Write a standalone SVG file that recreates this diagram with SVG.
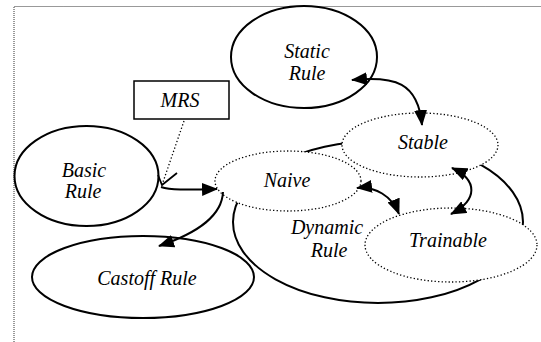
<svg xmlns="http://www.w3.org/2000/svg" width="541" height="342" viewBox="0 0 541 342">
<style>
.solid{fill:none;stroke:#000;stroke-width:2}
.dot{fill:#fff;stroke:#000;stroke-width:1.3;stroke-dasharray:1.3 2.2}
.lbl{font-family:'Liberation Serif','Times New Roman',serif;font-style:italic;font-size:20px;fill:#000;text-anchor:middle}
.arr{fill:none;stroke:#000;stroke-width:2}
</style>
<defs>
<marker id="ah" viewBox="0 0 16 13" refX="15" refY="6.5" markerWidth="16" markerHeight="13" markerUnits="userSpaceOnUse" orient="auto-start-reverse">
<path d="M0,0 L16,6.5 L0,13 z" fill="#000"/>
</marker>
</defs>
<path d="M14,342 V6.5 H541" fill="none" stroke="#333" stroke-width="1" stroke-dasharray="1 1"/>
<g id="dynamic"><ellipse class="solid" cx="378" cy="222" rx="145" ry="81"/><text class="lbl" x="327" y="234">Dynamic</text><text class="lbl" x="329" y="257">Rule</text></g>
<g id="static"><ellipse class="solid" cx="304" cy="57" rx="73" ry="51"/><text class="lbl" x="307" y="58">Static</text><text class="lbl" x="307" y="80">Rule</text></g>
<g id="basic"><ellipse class="solid" cx="86.5" cy="176" rx="72" ry="50"/><text class="lbl" x="84" y="177">Basic</text><text class="lbl" x="83" y="198">Rule</text></g>
<g id="castoff"><ellipse class="solid" cx="143" cy="277" rx="111" ry="41"/><text class="lbl" x="147" y="285">Castoff Rule</text></g>
<g id="mrs"><rect x="134" y="81" width="95" height="38" fill="#fff" stroke="#000" stroke-width="1.5"/><text class="lbl" x="180" y="107">MRS</text></g>
<g id="naive"><ellipse class="dot" cx="288" cy="181" rx="73" ry="30"/><text class="lbl" x="287" y="187">Naive</text></g>
<g id="stable"><ellipse class="dot" cx="420" cy="145" rx="78" ry="32"/><text class="lbl" x="423" y="149">Stable</text></g>
<g id="trainable"><ellipse class="dot" cx="451" cy="245" rx="86" ry="37"/><text class="lbl" x="448" y="247">Trainable</text></g>
<g id="connectors">
<path d="M184,121 L162,185" fill="none" stroke="#000" stroke-width="1.3" stroke-dasharray="1.3 2.2"/>
<polyline points="158,175 162,185 177,173" fill="none" stroke="#000" stroke-width="1.8"/>
<path class="arr" d="M161,187 C170,190 185,190 217,189" marker-end="url(#ah)"/>
<path class="arr" d="M223,192 C222,215 200,232 159,246" marker-end="url(#ah)"/>
<path class="arr" d="M352,80 C395,76 418,82 422,125" marker-start="url(#ah)" marker-end="url(#ah)"/>
<path class="arr" d="M357,188 C375,186 392,196 399,214" marker-start="url(#ah)" marker-end="url(#ah)"/>
<path class="arr" d="M452,168 C478,180 478,200 451,214" marker-start="url(#ah)" marker-end="url(#ah)"/>
</g>
</svg>
